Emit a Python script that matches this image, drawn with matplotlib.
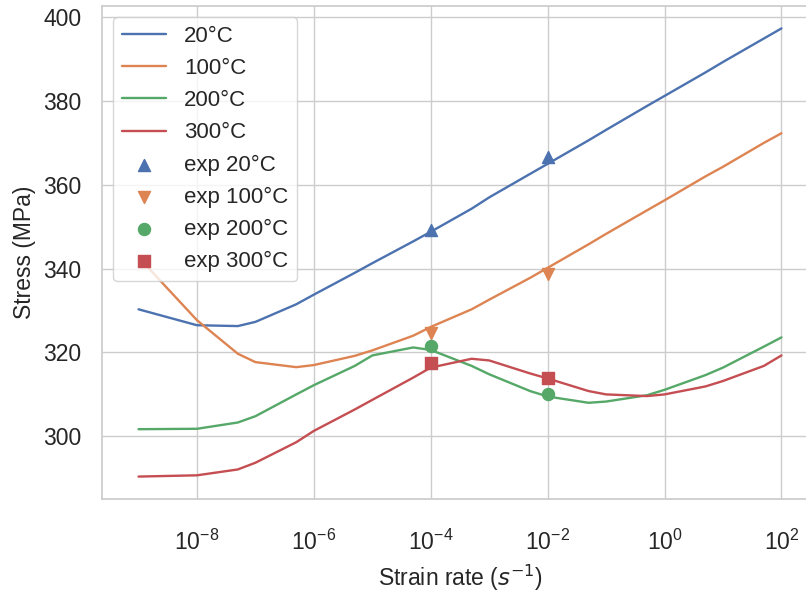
import matplotlib
matplotlib.use("Agg")
import matplotlib.pyplot as plt
import seaborn as sns

# data
rate = [1e-9, 1e-8, 5e-8, 1e-7, 5e-7, 1e-6, 5e-6, 1e-5, 5e-5, 1e-4, 5e-4,
        1e-3, 5e-3, 1e-2, 5e-2, 1e-1, 5e-1, 1e0, 5e0, 1e1, 5e1, 1e2]
s20 = [330.3, 326.5, 326.3, 327.3, 331.5, 333.8, 339.0, 341.3, 346.5, 348.8, 354.3,
       357.0, 362.6, 365.0, 370.6, 373.1, 378.8, 381.2, 386.8, 389.3, 394.9, 397.3]
s100 = [342.7, 327.7, 319.7, 317.7, 316.5, 317.0, 319.2, 320.5, 324.0, 326.1, 330.3,
        332.6, 337.8, 340.2, 345.8, 348.3, 353.9, 356.3, 362.0, 364.3, 370.0, 372.3]
s200 = [301.7, 301.8, 303.3, 304.8, 310.0, 312.2, 316.8, 319.3, 321.2, 320.6, 316.8,
        314.8, 310.8, 309.5, 308.0, 308.3, 309.8, 311.1, 314.6, 316.4, 321.4, 323.6]
s300 = [290.4, 290.7, 292.1, 293.7, 298.6, 301.3, 306.4, 308.7, 314.0, 316.4, 318.5,
        318.1, 315.0, 313.8, 310.8, 310.0, 309.6, 310.0, 311.9, 313.2, 316.8, 319.3]

exp_rate = [1e-4, 1e-2]
exp20 = [349.3, 366.7]
exp100 = [324.7, 338.8]
exp200 = [321.5, 310.2]
exp300 = [317.6, 314.0]

xticks = [1e-8, 1e-6, 1e-4, 1e-2, 1e0, 1e2]
yticks = [300, 320, 340, 360, 380, 400]

sns.set_theme(style="whitegrid", palette="deep")
plt.rcParams['font.family'] = ['Liberation Sans', 'DejaVu Sans']
cols = sns.color_palette("deep")

fig = plt.figure(figsize=(8.06, 5.93), dpi=100)
ax = fig.add_axes([102 / 806, 1 - 499 / 593, 716 / 806, 493 / 593])

lw = 1.7
ax.plot(rate, s20, color=cols[0], lw=lw, label="20°C")
ax.plot(rate, s100, color=cols[1], lw=lw, label="100°C")
ax.plot(rate, s200, color=cols[2], lw=lw, label="200°C")
ax.plot(rate, s300, color=cols[3], lw=lw, label="300°C")
ax.scatter(exp_rate, exp20, marker="^", s=75, color=cols[0], label="exp 20°C", zorder=3)
ax.scatter(exp_rate, exp100, marker="v", s=75, color=cols[1], label="exp 100°C", zorder=3)
ax.scatter(exp_rate, exp200, marker="o", s=75, color=cols[2], label="exp 200°C", zorder=3)
ax.scatter(exp_rate, exp300, marker="s", s=65, color=cols[3], label="exp 300°C", zorder=3)

ax.set_xscale("log")
ax.set_xlim(10 ** -9.625, 10 ** 2.625)
ax.set_ylim(285.05, 402.65)
ax.set_xticks(xticks)
ax.set_yticks(yticks)
ax.minorticks_off()
ax.tick_params(axis="both", labelsize=16.5, colors="#262626")
ax.tick_params(axis="x", pad=16)
ax.tick_params(axis="y", pad=9)

ax.set_xlabel("Strain rate ($s^{-1}$)", fontsize=16.5, color="#262626", labelpad=6)
ax.set_ylabel("Stress (MPa)", fontsize=16.5, color="#262626", labelpad=5)

ax.legend(loc="upper left", fontsize=16, frameon=True)

fig.savefig("out.png", dpi=100)
